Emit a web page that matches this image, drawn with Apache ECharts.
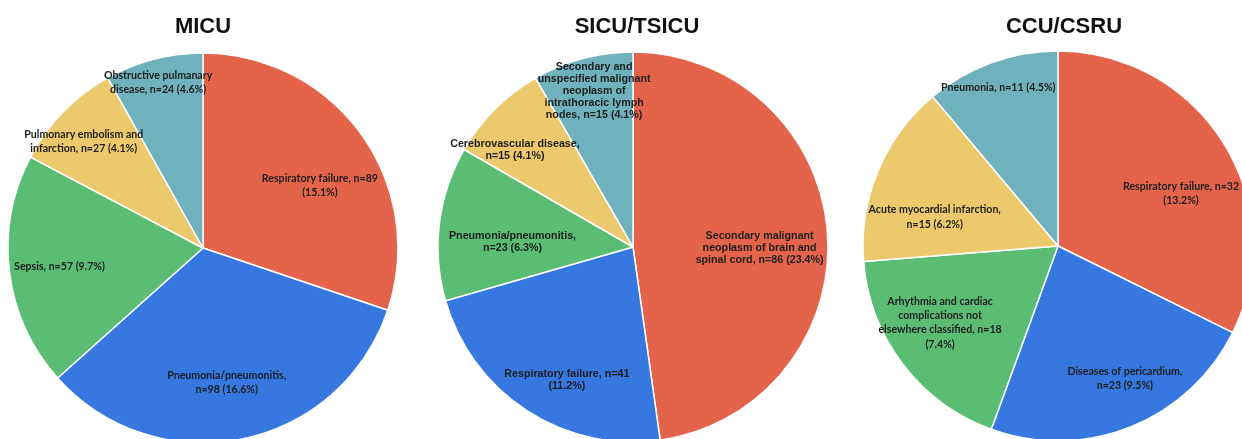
<!DOCTYPE html>
<html><head><meta charset="utf-8">
<script src="https://cdn.jsdelivr.net/npm/echarts@6/dist/echarts.min.js"></script>
<style>html,body{margin:0;padding:0;background:#fff}#c{width:1242px;height:439px}</style>
</head><body><div id="c"></div>
<script>
// ---- data ----
const units = ['MICU', 'SICU/TSICU', 'CCU/CSRU'];

const micuLabels = [
  'Respiratory failure, n=89\n(15.1%)',
  'Pneumonia/pneumonitis,\nn=98 (16.6%)',
  'Sepsis, n=57 (9.7%)',
  'Pulmonary embolism and\ninfarction, n=27 (4.1%)',
  'Obstructive pulmanary\ndisease, n=24 (4.6%)'
];
const micuValues = [89, 98, 57, 27, 24];

const sicuLabels = [
  'Secondary malignant\nneoplasm of brain and\nspinal cord, n=86 (23.4%)',
  'Respiratory failure, n=41\n(11.2%)',
  'Pneumonia/pneumonitis,\nn=23 (6.3%)',
  'Cerebrovascular disease,\nn=15 (4.1%)',
  'Secondary and\nunspecified malignant\nneoplasm of\nintrathoracic lymph\nnodes, n=15 (4.1%)'
];
const sicuValues = [86, 41, 23, 15, 15];

const ccuLabels = [
  'Respiratory failure, n=32\n(13.2%)',
  'Diseases of pericardium,\nn=23 (9.5%)',
  'Arhythmia and cardiac\ncomplications not\nelsewhere classified, n=18\n(7.4%)',
  'Acute myocardial infarction,\nn=15 (6.2%)',
  'Pneumonia, n=11 (4.5%)'
];
const ccuValues = [32, 23, 18, 15, 11];

// ---- styling / layout ----
const colors = ['#E4644B', '#3677E0', '#5BBD74', '#EDC96D', '#6FB2BD'];
const centers = [[203, 248], [633, 247], [1058, 246]];
const titleX = [203, 637, 1064];
const R = 195;
// label placement: radial fraction of radius, and angular shift (deg, clockwise) from slice middle
const labelFrac = [
  [0.66, 0.68, 0.72, 0.795, 0.855],
  [0.63, 0.74, 0.60, 0.76, 0.80],
  [0.665, 0.74, 0.70, 0.63, 0.84]
];
const labelShift = [
  [7.5, 1.6, -0.5, -2.5, -0.5],
  [4.5, -6.6, -4.5, -5.6, 1],
  [8.8, -4.9, 4.2, -9.5, -0.7]
];
const fonts = ['Lato', 'Liberation Sans', 'Lato'];
const fontSizes = [10.6, 10.7, 10.6];
const lineHeights = [14, 12.2, 14.2];

const allLabels = [micuLabels, sicuLabels, ccuLabels];
const allValues = [micuValues, sicuValues, ccuValues];

const chart = echarts.init(document.getElementById('c'), null, {renderer: 'canvas'});

const series = allValues.map((vals, si) => ({
  type: 'pie',
  center: centers[si],
  radius: [0, R],
  startAngle: 90,
  clockwise: true,
  silent: true,
  animation: false,
  avoidLabelOverlap: false,
  itemStyle: {borderColor: '#ffffff', borderWidth: 1.5},
  label: {
    show: true,
    position: 'inside',
    color: '#1e1e1e',
    fontFamily: fonts[si],
    fontWeight: 'bold',
    fontSize: fontSizes[si],
    lineHeight: lineHeights[si],
    align: 'center',
    formatter: p => allLabels[si][p.dataIndex]
  },
  labelLine: {show: false},
  labelLayout: function (params) {
    const c = centers[si];
    const r = params.labelRect;
    const lx = r.x + r.width / 2, ly = r.y + r.height / 2;
    const k = labelFrac[si][params.dataIndex] / 0.5;
    const d = labelShift[si][params.dataIndex] * Math.PI / 180;
    const vx = (lx - c[0]) * k, vy = (ly - c[1]) * k;
    return {
      x: c[0] + vx * Math.cos(d) - vy * Math.sin(d),
      y: c[1] + vx * Math.sin(d) + vy * Math.cos(d),
      align: 'center',
      verticalAlign: 'middle'
    };
  },
  data: vals.map((v, i) => ({
    value: v,
    name: allLabels[si][i],
    itemStyle: {color: colors[i]}
  }))
}));

const titles = units.map((u, i) => ({
  text: u,
  left: titleX[i],
  top: 16,
  padding: 0,
  textAlign: 'center',
  textStyle: {fontFamily: 'Liberation Sans', fontWeight: 'bold', fontSize: 22, color: '#111'}
}));

chart.setOption({
  backgroundColor: '#ffffff',
  animation: false,
  title: titles,
  series: series
});
</script>
</body></html>
